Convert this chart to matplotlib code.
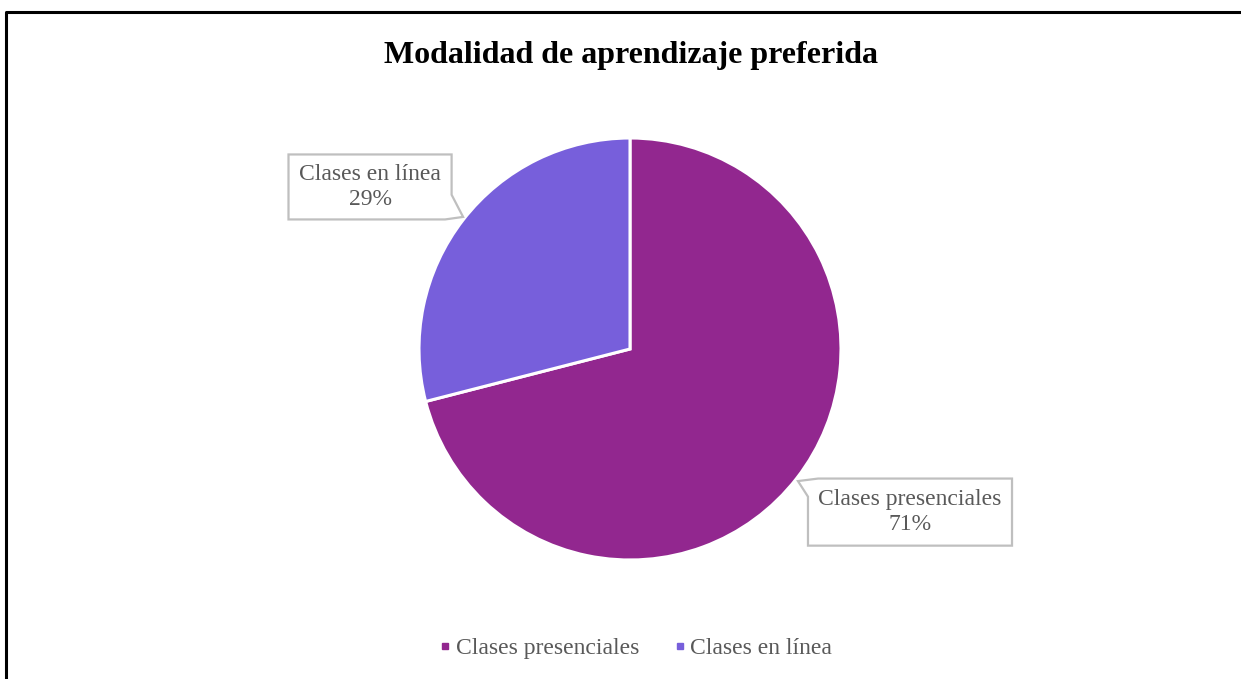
import matplotlib
matplotlib.use("Agg")
import matplotlib.pyplot as plt
from matplotlib.patches import Polygon
from matplotlib.lines import Line2D
import numpy as np

title = "Modalidad de aprendizaje preferida"
categories = ["Clases presenciales", "Clases en línea"]
values = [71, 29]
colors = ["#92278F", "#775FDB"]

W, H = 1241, 679
fig = plt.figure(figsize=(W / 100, H / 100), dpi=100)
fig.patch.set_facecolor("white")

# outer border (top and left visible)
fig.add_artist(Line2D([6 / W, 6 / W, 1.0], [0.0, 1 - 12 / H, 1 - 12 / H],
                      transform=fig.transFigure, color="black", lw=2.2))

cx, cy, r = 630, 349, 211
ax = fig.add_axes([(cx - r) / W, (H - cy - r) / H, 2 * r / W, 2 * r / H])
wedges, _ = ax.pie(values, colors=colors, startangle=90, counterclock=False,
                   radius=1.0, wedgeprops=dict(edgecolor="white", linewidth=2.2))
ax.set_xlim(-1, 1)
ax.set_ylim(-1, 1)
ax.set_aspect("equal")
ax.axis("off")

serif = ["Liberation Serif", "DejaVu Serif"]
txtcol = "#595959"

# callout labels: (center x, center y, width, height, tip x, tip y, corner)
callouts = [
    (1.327, -0.773, 0.967, 0.318, 0.796, -0.626, "tl"),
    (-1.232, 0.768, 0.773, 0.308, -0.791, 0.626, "br"),
]
for (lx, ly, bw, bh, tx, ty, corner), cat, v in zip(callouts, categories, values):
    L, R, B, T = lx - bw / 2, lx + bw / 2, ly - bh / 2, ly + bh / 2
    if corner == "br":
        pts = [(L, T), (R, T), (R, B + 0.38 * bh), (tx, ty), (R - 0.04 * bw, B), (L, B)]
    else:
        pts = [(L + 0.05 * bw, T), (R, T), (R, B), (L, B), (L, T - 0.27 * bh), (tx, ty)]
    poly = Polygon(pts, closed=True, facecolor="white", edgecolor="#BFBFBF",
                   lw=1.6, clip_on=False, zorder=5)
    ax.add_patch(poly)
    ax.text(lx, ly, f"{cat}\n{v}%", ha="center", va="center", fontsize=17,
            family=serif, color=txtcol, linespacing=1.25, zorder=6, clip_on=False)

fig.text(631 / W, 1 - 55 / H, title, ha="center", va="center", fontsize=23,
         fontweight="bold", family=serif, color="black")

handles = [Line2D([], [], marker="s", ls="", markersize=5, color=c) for c in colors]
leg = fig.legend(handles, categories, loc="center", bbox_to_anchor=(634 / W, 1 - 648 / H),
                 ncol=2, frameon=False, handletextpad=0.05, columnspacing=1.3,
                 handlelength=0.8, prop=dict(family=serif, size=17))
for t in leg.get_texts():
    t.set_color(txtcol)

fig.savefig("out.png", dpi=100, facecolor="white")
